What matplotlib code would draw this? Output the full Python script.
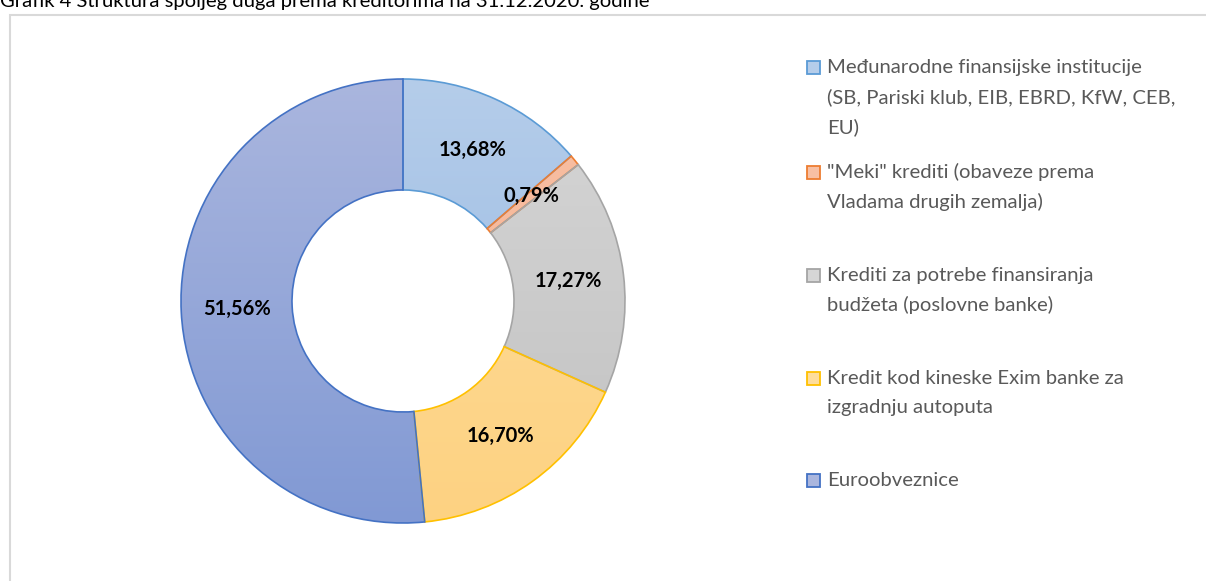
import matplotlib.pyplot as plt
import numpy as np
from matplotlib.patches import Rectangle, Wedge
from matplotlib.colors import LinearSegmentedColormap

W, H = 1206, 581

title = 'Grafik 4 Struktura spoljeg duga prema kreditorima na 31.12.2020. godine'

categories = [
    'Međunarodne finansijske institucije\n(SB, Pariski klub, EIB, EBRD, KfW, CEB,\nEU)',
    '"Meki" krediti (obaveze prema\nVladama drugih zemalja)',
    'Krediti za potrebe finansiranja\nbudžeta (poslovne banke)',
    'Kredit kod kineske Exim banke za\nizgradnju autoputa',
    'Euroobveznice',
]
shares = [13.68, 0.79, 17.27, 16.70, 51.56]
value_labels = ['13,68%', '0,79%', '17,27%', '16,70%', '51,56%']

# gradient top / bottom colours and outline for each slice
top_colors = ['#b5cdea', '#f8c0a4', '#d6d6d6', '#fedd9c', '#aab6de']
bottom_colors = ['#93b6e1', '#f5b08f', '#c1c1c1', '#fdd282', '#8199d4']
edge_colors = ['#5b9bd5', '#ed7d31', '#a5a5a5', '#ffc000', '#4472c4']

plt.rcParams['font.family'] = ['Lato', 'DejaVu Sans']

fig = plt.figure(figsize=(W / 100, H / 100), dpi=100, facecolor='white')
ax = fig.add_axes([0, 0, 1, 1])


def py(y):
    # pixel row (from top) -> data y
    return H - y


cx, cy, r_out, r_in = 403, py(301), 222, 111

wedges, _ = ax.pie(shares, center=(cx, cy), radius=r_out, startangle=90,
                   counterclock=False,
                   wedgeprops=dict(width=r_out - r_in, linewidth=1.2))

for w, top, bot, ec in zip(wedges, top_colors, bottom_colors, edge_colors):
    w.set_facecolor('none')
    w.set_edgecolor(ec)
    w.set_zorder(3)
    x0, y0, x1, y1 = cx - r_out, cy - r_out, cx + r_out, cy + r_out
    cmap = LinearSegmentedColormap.from_list('g', [bot, top])
    grad = np.linspace(0, 1, 256).reshape(-1, 1)
    im = ax.imshow(grad, cmap=cmap, origin='lower', aspect='auto',
                   extent=[x0, x1, y0, y1], zorder=2)
    clip = Wedge(w.center, w.r, w.theta1, w.theta2, width=w.width,
                 transform=ax.transData)
    im.set_clip_path(clip)

# value labels in the middle of the ring
r_mid = (r_out + r_in) / 2
for w, lab in zip(wedges, value_labels):
    ang = np.deg2rad((w.theta1 + w.theta2) / 2)
    ax.text(cx + r_mid * np.cos(ang), cy + r_mid * np.sin(ang), lab,
            ha='center', va='center', fontsize=14.5, fontweight='bold',
            color='black', zorder=5)

# legend drawn by hand (Excel-style spacing)
legend_rows = [67, 172, 275, 378, 480]
line_gap = 30
for lab, row, top, bot, ec in zip(categories, legend_rows, top_colors,
                                  bottom_colors, edge_colors):
    ax.add_patch(Rectangle((807, py(row) - 6.5), 13, 13, facecolor=top,
                           edgecolor=ec, linewidth=1.3, zorder=4))
    for i, line in enumerate(lab.split('\n')):
        ax.text(827, py(row + i * line_gap), line, ha='left', va='center',
                fontsize=14.6, color='#595959', zorder=4)

# chart frame and clipped title
ax.add_patch(Rectangle((10, -10), W + 20, py(15) + 10, facecolor='none',
                       edgecolor='#d9d9d9', linewidth=1.5, zorder=1))
ax.text(0, py(7), title, ha='left', va='baseline', fontsize=14.6,
        color='black')

ax.set_xlim(0, W)
ax.set_ylim(0, H)
ax.set_aspect('auto')
ax.axis('off')

fig.savefig('out.png', dpi=100, facecolor='white')
